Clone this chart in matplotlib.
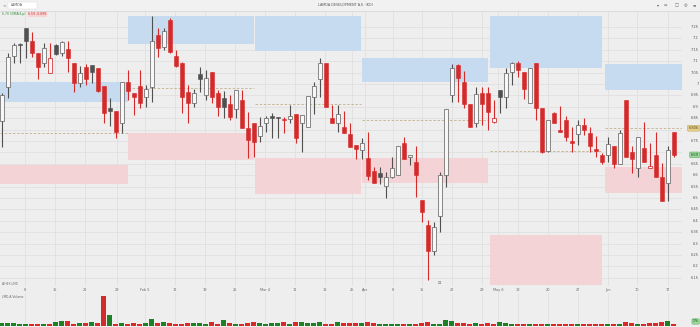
import matplotlib
matplotlib.use("Agg")
import matplotlib.pyplot as plt
from matplotlib.patches import Rectangle
from matplotlib.transforms import blended_transform_factory

# ---------------- data ----------------
opens = [6.837, 6.988, 7.123, 7.175, 7.244, 7.19, 7.137, 7.09, 7.05, 7.171,
         7.137, 7.152, 7.09, 7.006, 7.076, 7.083, 7.072, 6.993, 6.893, 6.883,
         6.828, 7.01, 6.962, 6.991, 6.942, 6.988, 7.215, 7.164, 7.281, 7.123,
         7.09, 6.966, 6.918, 7.044, 6.952, 7.054, 6.962, 6.937, 6.912, 6.889,
         6.93, 6.806, 6.83, 6.772, 6.83, 6.86, 6.852, 6.845, 6.845, 6.868,
         6.83, 6.813, 6.942, 7.021, 7.09, 6.85, 6.83, 6.81, 6.78, 6.732,
         6.711, 6.674, 6.62, 6.608, 6.553, 6.59, 6.601, 6.74, 6.681, 6.66,
         6.491, 6.382, 6.269, 6.421, 6.601, 6.952, 7.083, 7.01, 6.912, 6.83,
         6.96, 6.962, 6.835, 6.974, 6.944, 7.054, 7.09, 7.051, 6.918, 7.09,
         6.893, 6.707, 6.871, 6.80, 6.842, 6.75, 6.78, 6.82, 6.786, 6.714,
         6.689, 6.689, 6.728, 6.65, 6.93, 6.70, 6.63, 6.718, 6.63, 6.689,
         6.59, 6.567, 6.79]
highs = [6.96, 7.136, 7.181, 7.178, 7.244, 7.23, 7.137, 7.181, 7.181, 7.176,
         7.19, 7.19, 7.09, 7.079, 7.088, 7.083, 7.072, 6.993, 6.94, 6.883,
         7.01, 7.061, 6.962, 7.061, 6.996, 7.30, 7.244, 7.244, 7.29, 7.149,
         7.098, 6.996, 6.977, 7.073, 7.061, 7.054, 6.974, 6.97, 6.952, 6.974,
         6.974, 6.878, 6.83, 6.854, 6.86, 6.874, 6.854, 6.854, 6.908, 6.868,
         6.864, 6.947, 7.01, 7.113, 7.09, 6.908, 6.908, 6.883, 6.83, 6.732,
         6.762, 6.79, 6.635, 6.637, 6.615, 6.681, 6.728, 6.766, 6.69, 6.728,
         6.491, 6.404, 6.396, 6.615, 6.889, 7.088, 7.088, 7.059, 6.912, 6.988,
         6.988, 6.988, 6.93, 6.974, 7.069, 7.098, 7.102, 7.051, 7.069, 7.09,
         6.893, 6.842, 6.878, 6.904, 6.86, 6.81, 6.842, 6.85, 6.81, 6.77,
         6.696, 6.766, 6.728, 6.798, 6.93, 6.728, 6.769, 6.835, 6.74, 6.79,
         6.655, 6.728, 6.79]
lows = [6.724, 6.939, 7.09, 7.09, 7.113, 7.12, 7.02, 7.076, 7.05, 7.127,
        7.123, 7.054, 6.966, 6.988, 6.996, 7.003, 6.966, 6.83, 6.816, 6.762,
        6.786, 6.93, 6.864, 6.893, 6.898, 6.922, 7.12, 7.149, 7.134, 7.076,
        6.871, 6.83, 6.90, 6.966, 6.93, 6.915, 6.86, 6.85, 6.842, 6.85,
        6.806, 6.674, 6.681, 6.747, 6.79, 6.762, 6.762, 6.784, 6.828, 6.74,
        6.70, 6.81, 6.87, 6.942, 6.90, 6.828, 6.79, 6.786, 6.725, 6.67,
        6.67, 6.579, 6.564, 6.561, 6.50, 6.586, 6.60, 6.67, 6.645, 6.506,
        6.396, 6.14, 6.25, 6.35, 6.55, 6.922, 6.922, 6.893, 6.81, 6.81,
        6.82, 6.80, 6.828, 6.871, 6.893, 6.996, 7.032, 6.933, 6.915, 6.842,
        6.696, 6.703, 6.828, 6.79, 6.75, 6.703, 6.732, 6.776, 6.703, 6.681,
        6.65, 6.66, 6.63, 6.65, 6.678, 6.608, 6.59, 6.66, 6.63, 6.59,
        6.488, 6.488, 6.681]
closes = [6.952, 7.120, 7.171, 7.172, 7.19, 7.137, 7.073, 7.157, 7.113, 7.13,
          7.186, 7.113, 7.006, 7.05, 7.02, 7.054, 6.97, 6.871, 6.882, 6.79,
          7.01, 6.97, 6.944, 6.915, 6.977, 7.19, 7.157, 7.234, 7.142, 7.079,
          6.944, 6.918, 6.959, 7.021, 7.025, 6.942, 6.898, 6.90, 6.857, 6.974,
          6.806, 6.754, 6.747, 6.816, 6.85, 6.85, 6.851, 6.842, 6.86, 6.762,
          6.864, 6.947, 6.991, 7.09, 6.90, 6.83, 6.868, 6.786, 6.725, 6.714,
          6.74, 6.597, 6.567, 6.59, 6.59, 6.63, 6.728, 6.67, 6.69, 6.601,
          6.44, 6.269, 6.371, 6.601, 6.889, 7.069, 7.025, 6.912, 6.81, 6.956,
          6.912, 6.878, 6.85, 6.944, 7.05, 7.09, 7.061, 6.98, 7.069, 6.893,
          6.703, 6.842, 6.83, 6.79, 6.769, 6.74, 6.82, 6.80, 6.728, 6.708,
          6.66, 6.736, 6.65, 6.786, 6.678, 6.67, 6.769, 6.66, 6.64, 6.59,
          6.488, 6.711, 6.689]
volumes = [23, 23, 23, 17, 17, 17, 17, 17, 13, 33, 43, 43, 17, 23, 23, 30, 25,
           290, 107, 17, 27, 17, 23, 17, 23, 67, 27, 33, 23, 17, 17, 23, 23, 23,
           17, 30, 17, 50, 27, 17, 17, 23, 33, 27, 17, 23, 23, 30, 17, 33, 33,
           27, 27, 33, 10, 13, 30, 23, 27,
           27, 27, 33, 27, 17, 10, 10, 17, 10, 17, 17, 23, 33, 17, 17, 50, 43,
           27, 23, 17, 27, 17, 27, 17, 33, 23,
           10, 10, 13, 10, 13, 10, 10, 13, 10, 10, 13, 10, 10, 13,
           10, 13, 10, 13, 10,
           33, 23, 17, 17, 23, 23, 33, 43, 17]

date_labels = ["8", "15", "22", "29", "Feb 5", "12", "19", "26", "Mar 4", "11",
               "18", "25", "Apr", "8", "15", "22", "29", "May 6", "13", "20",
               "27", "Jun", "10", "17"]
date_index = [3.9, 8.9, 13.9, 19.2, 23.9, 28.9, 33.9, 38.9, 43.9, 48.9,
              53.9, 58.4, 60.6, 65.2, 70.0, 75.0, 80.0, 82.7, 86.0, 91.0,
              96.0, 101.0, 105.9, 111.0]

# monthly blocks (candle index range)
month_start = [-0.3, 21.05, 42.2, 60.05, 81.4, 100.5]
month_end = [21.0, 42.0, 59.95, 81.05, 100.1, 113.4]
month_open_level = [6.784, 6.981, 6.911, 6.842, 6.706, 6.806]
supply_top = [7.009, 7.30, 7.30, 7.114, 7.30, 7.088]
supply_bottom = [6.921, 7.175, 7.145, 7.009, 7.072, 6.974]
demand_top = [6.645, 6.785, 6.676, 6.676, 6.338, 6.636]
demand_bottom = [6.561, 6.667, 6.518, 6.566, 6.118, 6.522]

price_ticks = [7.25, 7.2, 7.15, 7.1, 7.05, 7.0, 6.95, 6.9, 6.85, 6.8, 6.75,
               6.7, 6.65, 6.6, 6.55, 6.5, 6.45, 6.4, 6.35, 6.3, 6.25, 6.2, 6.15]
marker_labels = {6.806: "6.806", 6.689: "6.69"}

# ---------------- figure ----------------
W, H = 700, 327
BG = "#eeeeee"
GRID = "#e0e0e0"
RED = "#d42a2a"
DARK = "#505050"
GREEN = "#1f7f24"

fig = plt.figure(figsize=(W / 100, H / 100), dpi=100)
fig.patch.set_facecolor(BG)


def fy(px):
    return 1 - px / H


top_px, bot_px, right_px = 11, 286, 682
ax = fig.add_axes([0, fy(bot_px), right_px / W, (bot_px - top_px) / H])
ax.set_facecolor(BG)
ppu = 228.0
ymax = 7.25 + (27 - top_px) / ppu
ymin = 7.25 - (bot_px - 27) / ppu
ax.set_ylim(ymin, ymax)
xmin = -1.7 / 6
xmax = (right_px - 1.7) / 6
ax.set_xlim(xmin, xmax)
for s in ax.spines.values():
    s.set_visible(False)
ax.set_xticks([])
ax.set_yticks([])

# grid
for p in price_ticks:
    ax.axhline(p, color=GRID, lw=0.6, zorder=0)
for d in date_index:
    ax.axvline(d, color=GRID, lw=0.6, zorder=0)

# zones and month open levels
for s, e, st, sb, dt, db, lv in zip(month_start, month_end, supply_top, supply_bottom,
                                     demand_top, demand_bottom, month_open_level):
    ax.add_patch(Rectangle((s, sb), e - s, st - sb, facecolor="#c5daf1",
                           edgecolor="none", alpha=0.95, zorder=1))
    ax.add_patch(Rectangle((s, db), e - s, dt - db, facecolor="#f4d2d5",
                           edgecolor="none", alpha=0.95, zorder=1))
    ax.hlines(lv, s, e, colors="#c4b08c", linestyles=(0, (3, 2)), lw=0.6, zorder=2)

# candles
n = len(opens)
xs = list(range(n))
for i in xs:
    o, h, l, c = opens[i], highs[i], lows[i], closes[i]
    prev = closes[i - 1] if i > 0 else o
    down_day = c < prev
    col = RED if down_day else DARK
    filled = c < o
    ax.vlines(i, l, h, colors=col, lw=0.8, zorder=3)
    bottom = min(o, c)
    height = max(abs(c - o), 0.004)
    if filled:
        ax.bar(i, height, bottom=bottom, width=0.7, color=col, edgecolor=col,
               linewidth=0.4, zorder=4)
    else:
        ax.bar(i, height, bottom=bottom, width=0.7, color="#f7f7f7",
               edgecolor=col if down_day else "#6a6a6a", linewidth=0.55, zorder=4)

# right price axis labels
tr = blended_transform_factory(fig.transFigure, ax.transData)
for p in price_ticks:
    if any(abs(p - m) < 0.02 for m in marker_labels):
        continue
    txt = ("%.2f" % p).rstrip("0").rstrip(".")
    ax.text(0.998, p, txt, transform=tr, ha="right", va="center",
            fontsize=2.6, color="#555555", clip_on=False)
mk = list(marker_labels.items())
ax.text(0.998, mk[0][0], mk[0][1], transform=tr, ha="right", va="center",
        fontsize=2.6, color="#5a4a20", clip_on=False,
        bbox=dict(boxstyle="round,pad=0.25", fc="#e6cf8a", ec="#b89a4a", lw=0.3))
ax.text(0.998, mk[1][0], mk[1][1], transform=tr, ha="right", va="center",
        fontsize=2.6, color="#0f4f12", clip_on=False,
        bbox=dict(boxstyle="round,pad=0.25", fc="#9fd69f", ec="#3f9f3f", lw=0.3))

# date labels
trd = blended_transform_factory(ax.transData, fig.transFigure)
for d, lab in zip(date_index, date_labels):
    ax.text(d, fy(290), lab, transform=trd, ha="center", va="center",
            fontsize=2.5, color="#666666", clip_on=False)

# small event marker
ax.text(73.0, fy(283.2), "⊟", transform=trd, ha="center", va="center",
        fontsize=3, color="#777777", clip_on=False)
fig.text(2 / W, fy(284), "ATHEX:LMD", ha="left", va="center", fontsize=2.2,
         color="#777777")

# volume pane
vtop, vbot = 293, 325.5
vax = fig.add_axes([0, fy(vbot), right_px / W, (vbot - vtop) / H])
vax.set_facecolor(BG)
vax.set_xlim(xmin, xmax)
vax.set_ylim(0, 290 * (vbot - vtop) / 29.5)
for s in vax.spines.values():
    s.set_visible(False)
vax.set_xticks([])
vax.set_yticks([])
for d in date_index:
    vax.axvline(d, color=GRID, lw=0.6, zorder=0)
vcols = []
for i in xs:
    prev = closes[i - 1] if i > 0 else opens[i]
    vcols.append(GREEN if closes[i] >= prev else RED)
vax.bar(xs, volumes, width=0.75, color=vcols, zorder=3)
fig.text(2 / W, fy(296.5), "LMD.A Volume", ha="left", va="center",
         fontsize=2.2, color="#666666")
fig.text(0.998, fy(321.5), "17k", ha="right", va="center", fontsize=2.3,
         color="#0f4f12",
         bbox=dict(boxstyle="round,pad=0.2", fc="#9fd69f", ec="#3f9f3f", lw=0.3))

# top toolbar
fig.patches.append(Rectangle((0, fy(10.5)), 1, 10.5 / H, transform=fig.transFigure,
                             facecolor="#f1f1f1", edgecolor="none", zorder=-1))
fig.lines.append(plt.Line2D([0, 1], [fy(10.6), fy(10.6)], transform=fig.transFigure,
                            color="#d2d2d2", lw=0.5))
fig.patches.append(Rectangle((8 / W, fy(9)), 29 / W, 7.5 / H, transform=fig.transFigure,
                             facecolor="white", edgecolor="#d8d8d8", lw=0.3))
fig.text(4 / W, fy(5.3), "<", ha="center", va="center", fontsize=3, color="#666666")
fig.text(11 / W, fy(5.3), "LAMDA", ha="left", va="center", fontsize=2.3, color="#555555")
fig.text(345 / W, fy(5.5), "LAMDA DEVELOPMENT A.E. (KO)", ha="center", va="center",
         fontsize=2.4, color="#555555")
for xpx, g in zip([658, 666, 677, 686, 694], ["▾", "⇔", "□", "◎", "≡"]):
    fig.text(xpx / W, fy(5.5), g, ha="center", va="center", fontsize=3,
             color="#666666")
fig.text(2 / W, fy(14.2), "6.70 50MA(4,p) ·", ha="left", va="center",
         fontsize=2.2, color="#2f8f2f")
fig.text(28 / W, fy(14.2), "6.59 -0.89%", ha="left", va="center", fontsize=2.2,
         color="#d03030",
         bbox=dict(boxstyle="square,pad=0.15", fc="#f6d5d5", ec="none"))

fig.savefig("out.png", dpi=100, facecolor=BG)
